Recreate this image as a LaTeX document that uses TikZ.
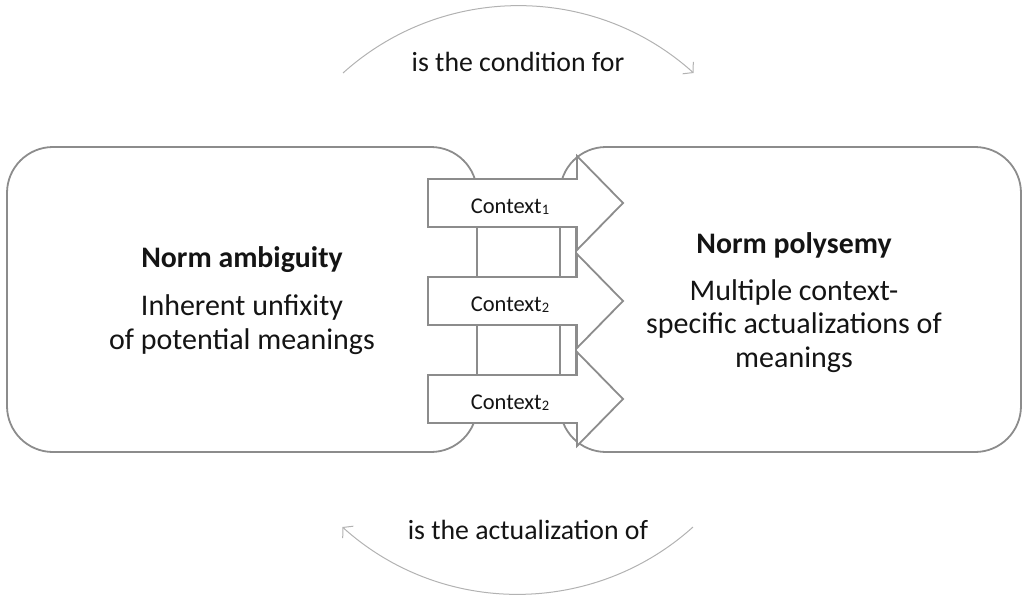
\documentclass[tikz,border=0pt]{standalone}
\usepackage{fontspec}
\setmainfont{Carlito}
\usetikzlibrary{arrows.meta}
\definecolor{boxline}{RGB}{140,140,140}
\definecolor{arcline}{RGB}{178,178,178}
\definecolor{txt}{RGB}{20,20,20}
\begin{document}
\begin{tikzpicture}[x=1pt,y=1pt,
  bigbox/.style={draw=boxline,line width=1.8pt,rounded corners=46pt},
  ctxarrow/.style={draw=boxline,line width=1.8pt,fill=white,line join=miter},
  conn/.style={draw=boxline,line width=1.8pt},
  relarc/.style={draw=arcline,line width=1pt,-{Straight Barb[length=7pt,width=16pt]}},
  bigtxt/.style={text=txt,font=\fontsize{30}{36}\selectfont,anchor=base,inner sep=0pt},
  headtxt/.style={text=txt,font=\fontsize{29.8}{36}\selectfont\bfseries,anchor=base,inner sep=0pt},
  ctxtxt/.style={text=txt,font=\fontsize{22.5}{26}\selectfont,anchor=base,inner sep=0pt},
  reltxt/.style={text=txt,font=\fontsize{27.8}{32}\selectfont,inner sep=0pt}]
\useasboundingbox (0,0) rectangle (1026,-595);
% boxes
\draw[bigbox] (7,-147) rectangle (477,-452);
\draw[bigbox] (560,-147) rectangle (1021,-452);
% texts left
\node[headtxt] (la) at (242,-267) {Norm ambiguity};
\node[bigtxt] (lb) at (242,-315) {Inherent unfixity};
\node[bigtxt] (lc) at (242,-349) {of potential meanings};
% texts right
\node[headtxt] (ra) at (794,-253) {Norm polysemy};
\node[bigtxt] (rb) at (794,-300) {Multiple context-};
\node[bigtxt] (rc) at (794,-333) {specific actualizations of};
\node[bigtxt] (rd) at (794,-367) {meanings};
% connectors between arrows
\foreach \t/\b in {227/277, 325/375}{
  \draw[conn] (477,-\t) -- (477,-\b);
  \draw[conn] (560,-\t) -- (560,-\b);
  \draw[conn] (576,-\t) -- (576,-\b);
}
% context arrows
\foreach \c/\s/\n in {203/1/a1, 301/2/a2, 399/2/a3}{
  \draw[ctxarrow] (428,-\c+24) -- (577,-\c+24) -- (577,-\c+47) -- (623,-\c) -- (577,-\c-47) -- (577,-\c-24) -- (428,-\c-24) -- cycle;
  \node[ctxtxt] (\n) at (510,-\c-10) {Context{\fontsize{14.5}{14.5}\selectfont\raisebox{-1.5pt}{\s}}};
}
% relation arcs
\coordinate (t1) at (343,-73);
\draw[relarc] (t1) arc[start angle=132, end angle=48, radius=262] coordinate (t2);
\node[reltxt] (tl) at (518,-62) {is the condition for};
\coordinate (b1) at (693,-527);
\draw[relarc] (b1) arc[start angle=-48, end angle=-132, radius=262] coordinate (b2);
\node[reltxt] (bl) at (528,-530) {is the actualization of};
\end{tikzpicture}
\end{document}
